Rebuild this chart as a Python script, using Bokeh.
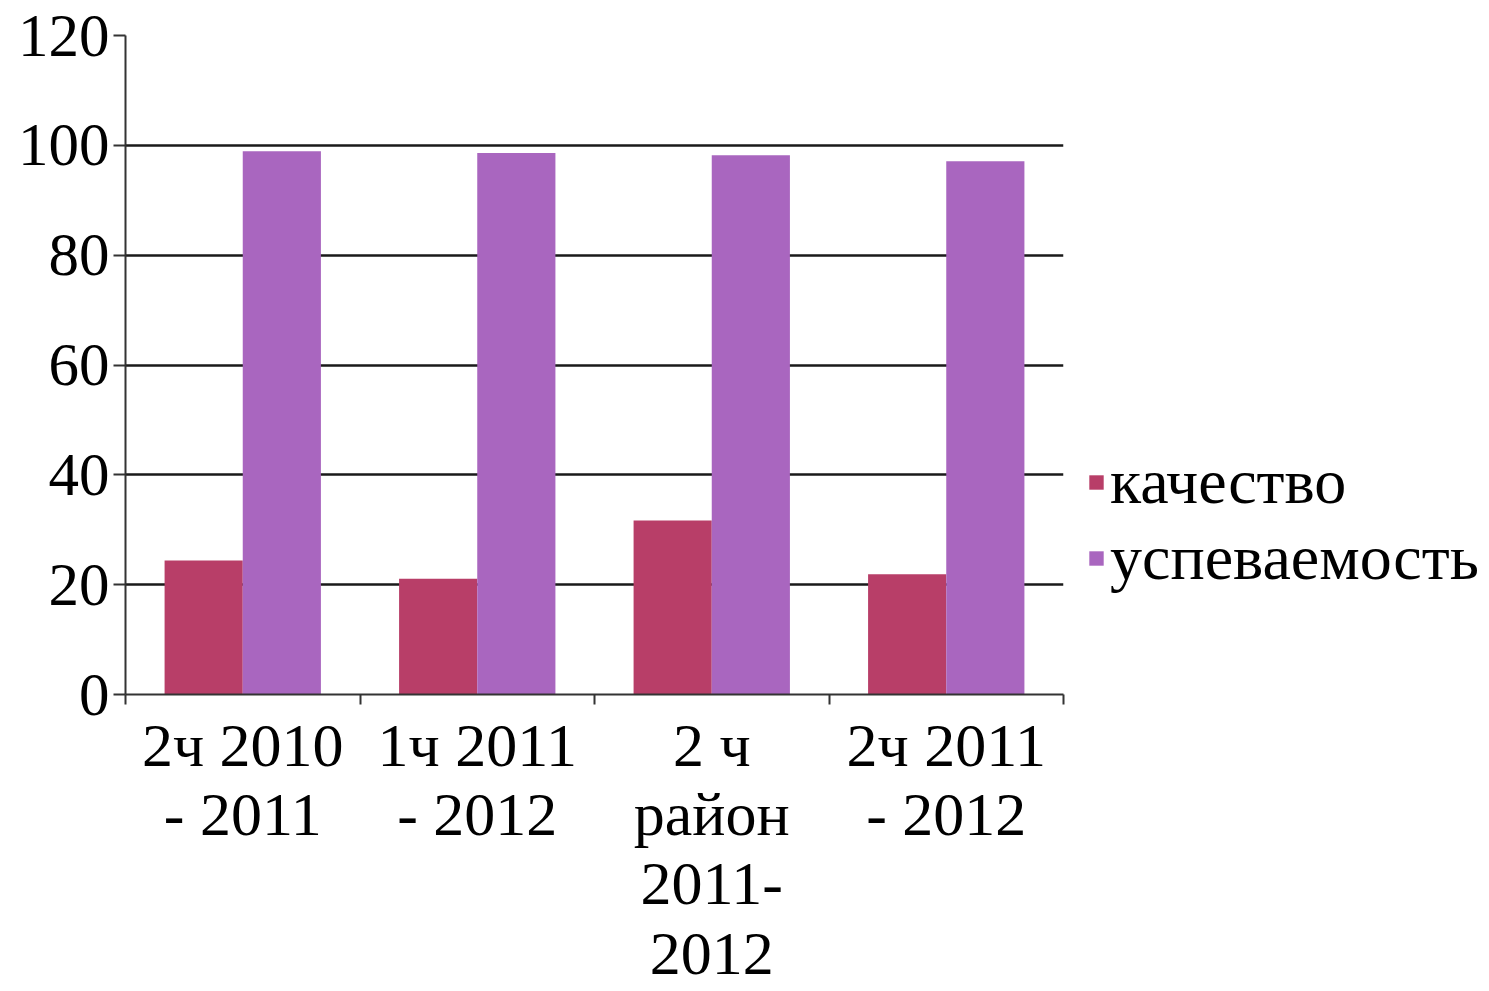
from bokeh.plotting import figure
from bokeh.models import FixedTicker, Legend, LegendItem, Range1d, ColumnDataSource
from bokeh.transform import dodge
from bokeh.embed import file_html
from bokeh.resources import INLINE

categories = ["2ч 2010\n- 2011", "1ч 2011\n- 2012", "2 ч\nрайон\n2011-\n2012", "2ч 2011\n- 2012"]
kachestvo = [24.4, 21.1, 31.7, 21.9]
uspevaemost = [98.9, 98.6, 98.2, 97.1]
y_ticks = [0, 20, 40, 60, 80, 100, 120]

FONT = "Liberation Serif"
RED = "#B83E68"
PURPLE = "#A966BF"

centers = [i + 0.5 for i in range(len(categories))]
src = ColumnDataSource(dict(x=centers, k=kachestvo, u=uspevaemost))

p = figure(output_backend="svg", toolbar_location=None,
           frame_width=938, frame_height=659,
           min_border_left=125, min_border_top=35, min_border_right=426, min_border_bottom=0,
           x_range=Range1d(0, len(categories)), y_range=Range1d(0, 120))
p.outline_line_color = None
p.background_fill_color = "white"

r1 = p.vbar(x=dodge("x", -1/6, range=p.x_range), top="k", width=1/3, source=src,
            fill_color=RED, line_color=None)
r2 = p.vbar(x=dodge("x", 1/6, range=p.x_range), top="u", width=1/3, source=src,
            fill_color=PURPLE, line_color=None)

# x axis
xa = p.xaxis[0]
xa.ticker = FixedTicker(ticks=centers, minor_ticks=list(range(len(categories) + 1)))
xa.major_label_overrides = {c: lab for c, lab in zip(centers, categories)}
xa.major_tick_line_color = None
xa.minor_tick_out = 10
xa.minor_tick_in = 0
xa.minor_tick_line_color = "#333333"
xa.minor_tick_line_width = 2
xa.axis_line_color = "#333333"
xa.axis_line_width = 2
xa.major_label_text_font = FONT
xa.major_label_text_font_size = "62px"
xa.major_label_text_color = "black"
xa.major_label_standoff = 6
xa.major_label_text_line_height = 1.02

# y axis
ya = p.yaxis[0]
ya.ticker = FixedTicker(ticks=y_ticks)
ya.minor_tick_line_color = None
ya.major_tick_out = 12
ya.major_tick_in = 0
ya.major_tick_line_color = "#333333"
ya.major_tick_line_width = 2
ya.axis_line_color = "#333333"
ya.axis_line_width = 2
ya.major_label_text_font = FONT
ya.major_label_text_font_size = "61px"
ya.major_label_text_color = "black"
ya.major_label_standoff = 4

p.xgrid.grid_line_color = None
p.ygrid.ticker = FixedTicker(ticks=y_ticks[1:])
p.ygrid.grid_line_color = "#1a1a1a"
p.ygrid.grid_line_width = 2.5

legend = Legend(items=[LegendItem(label="качество", renderers=[r1]),
                       LegendItem(label="успеваемость", renderers=[r2])],
                location=(24, 99), orientation="vertical",
                border_line_color=None, background_fill_alpha=0,
                label_text_font=FONT, label_text_font_size="64px", label_text_color="black",
                glyph_width=18, glyph_height=18, label_standoff=5,
                spacing=2, padding=4, margin=0)
p.add_layout(legend, "right")

open("out.html", "w").write(file_html(p, INLINE))
